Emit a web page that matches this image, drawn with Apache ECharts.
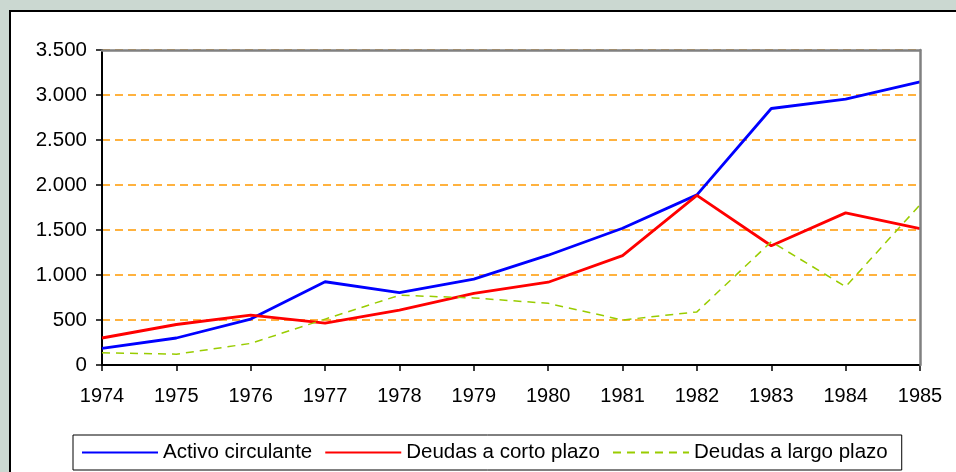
<!DOCTYPE html>
<html>
<head>
<meta charset="utf-8">
<script src="https://cdn.jsdelivr.net/npm/echarts@6/dist/echarts.min.js"></script>
<style>
  html, body { margin: 0; padding: 0; background: #cbd8d1; }
  #chart { width: 956px; height: 472px; }
</style>
</head>
<body>
<div id="chart"></div>
<script>
const years = ['1974', '1975', '1976', '1977', '1978', '1979', '1980', '1981', '1982', '1983', '1984', '1985'];
const activoCirculante = [185, 300, 510, 925, 805, 955, 1220, 1520, 1890, 2850, 2955, 3145];
const deudasCorto = [300, 450, 555, 465, 610, 795, 920, 1215, 1885, 1325, 1690, 1515];
const deudasLargo = [135, 120, 240, 510, 775, 745, 685, 500, 590, 1370, 870, 1780];
const yTickLabels = ['0', '500', '1.000', '1.500', '2.000', '2.500', '3.000', '3.500'];

const font = 'Liberation Sans, Arial, sans-serif';
const chart = echarts.init(document.getElementById('chart'));

// top / right frame of the plot area, drawn as extra axes so it sits above the grid lines
const frameAxis = {
  axisLine: { show: true, onZero: false, lineStyle: { color: '#808080', width: 2.5 } },
  axisTick: { show: false },
  axisLabel: { show: false },
  splitLine: { show: false },
  z: 5,
};

const option = {
  backgroundColor: '#cbd8d1',
  animation: false,
  textStyle: { fontFamily: font },
  graphic: [
    {
      type: 'rect',
      z: -10,
      shape: { x: 10, y: 11, width: 960, height: 480 },
      style: { fill: '#ffffff', stroke: '#000000', lineWidth: 2 },
    },
  ],
  grid: {
    left: 102,
    right: 36,
    top: 50,
    bottom: 107,
  },
  legend: {
    left: 73,
    top: 435,
    padding: [7, 14, 7, 8],
    itemGap: 12,
    itemWidth: 76,
    itemHeight: 10,
    borderColor: '#000000',
    borderWidth: 1,
    backgroundColor: '#ffffff',
    itemStyle: { opacity: 0 },
    textStyle: { fontSize: 20.5, color: '#000', fontFamily: font },
    data: ['Activo circulante', 'Deudas a corto plazo', 'Deudas a largo plazo'],
  },
  xAxis: [
    {
      type: 'category',
      boundaryGap: false,
      data: years,
      axisLine: { lineStyle: { color: '#000', width: 2 } },
      axisTick: { show: true, length: 6, lineStyle: { color: '#000', width: 1.5 } },
      axisLabel: { color: '#000', fontSize: 20, margin: 21, fontFamily: font },
      splitLine: { show: false },
    },
    Object.assign({ type: 'category', position: 'top', boundaryGap: false, data: years }, frameAxis),
  ],
  yAxis: [
    {
      type: 'value',
      min: 0,
      max: 3500,
      interval: 500,
      axisLine: { show: true, lineStyle: { color: '#000', width: 2 } },
      axisTick: { show: true, length: 6, lineStyle: { color: '#000', width: 1.5 } },
      axisLabel: {
        color: '#000',
        fontSize: 20.5,
        margin: 15,
        fontFamily: font,
        formatter: (v) => yTickLabels[Math.round(v / 500)],
      },
      splitLine: { show: true, lineStyle: { color: '#ff9900', width: 1.6, type: [8, 5] } },
    },
    Object.assign({ type: 'value', position: 'right', min: 0, max: 3500, interval: 500 }, frameAxis),
  ],
  series: [
    {
      name: 'Activo circulante',
      type: 'line',
      data: activoCirculante,
      symbol: 'none',
      lineStyle: { color: '#0000ff', width: 2.8 },
      itemStyle: { color: '#0000ff' },
    },
    {
      name: 'Deudas a corto plazo',
      type: 'line',
      data: deudasCorto,
      symbol: 'none',
      lineStyle: { color: '#ff0000', width: 2.8 },
      itemStyle: { color: '#ff0000' },
    },
    {
      name: 'Deudas a largo plazo',
      type: 'line',
      data: deudasLargo,
      symbol: 'none',
      lineStyle: { color: '#99cc00', width: 1.5, type: [8, 6] },
      itemStyle: { color: '#99cc00' },
    },
  ],
};

chart.setOption(option);
</script>
</body>
</html>
